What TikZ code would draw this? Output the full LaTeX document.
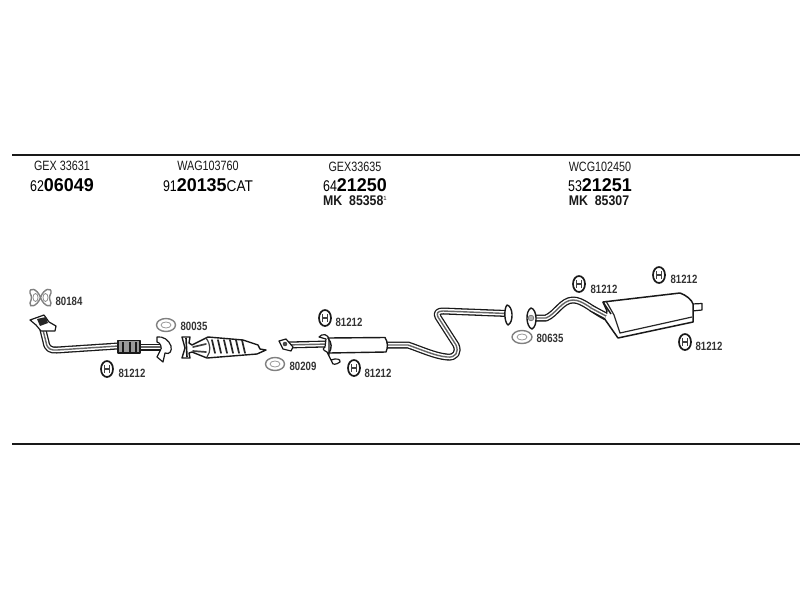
\documentclass[tikz,border=0pt]{standalone}
\usepackage{graphicx}
\usepackage{fontspec}
\setmainfont{Liberation Sans}
\newcommand{\nar}[2][0.8]{\scalebox{#1}[1]{#2}}
\newcommand{\code}[2]{\nar[0.8]{\fontsize{15.5}{15.5}\selectfont #1}\nar[0.97]{\fontsize{18.5}{18.5}\selectfont\bfseries #2}}
\tikzset{
  x=1pt,y=-1pt,
  rulebar/.style={line width=1.7pt,black!90},
  hdr/.style={inner sep=0pt,font=\fontsize{13.5}{13.5}\selectfont,text=black!90},
  num/.style={inner sep=0pt,text=black},
  mk/.style={inner sep=0pt,font=\fontsize{14}{14}\selectfont\bfseries,text=black!90},
  partno/.style={inner sep=0pt,font=\fontsize{12}{12}\selectfont\bfseries,text=black!80},
  gasket/.style={draw=black!50,line width=1.4pt,fill=white},
  outl/.style={draw=black!90,line width=1.2pt,line join=round},
  bodyfill/.style={outl,fill=white},
  shade/.style={draw=black!75,line width=1.7pt,line cap=round},
  mount/.pic={
    \draw[black!90,line width=1.7pt,fill=white] (0,0) ellipse [x radius=6,y radius=8];
    \draw[black!75,line width=1.3pt] (-2.4,-3.8) -- (-2.4,3.8) (2.4,-3.8) -- (2.4,3.8) (-2.4,0) -- (2.4,0);
  }
}
\newcommand{\pipe}[1]{
  \draw[black!90,line width=7pt,line join=round] #1;
  \draw[white,line width=4.4pt,line join=round] #1;
  \draw[black!60,line width=1.4pt,line join=round] #1;
}
\begin{document}
\begin{tikzpicture}
\useasboundingbox (0,0) rectangle (800,600);
\fill[white] (0,0) rectangle (800,600);
% rules
\coordinate (ta) at (12,155); \coordinate (tb) at (800,155);
\coordinate (ba) at (12,444); \coordinate (bb) at (800,444);
\draw[rulebar] (ta) -- (tb);
\draw[rulebar] (ba) -- (bb);
% header texts
\node[hdr] (h1) at (62,166) {\nar{GEX 33631}};
\node[num] (n1) at (62,185) {\code{62}{06049}};
\node[hdr] (h2) at (208,166) {\nar{WAG103760}};
\node[num] (n2) at (208,185) {\code{91}{20135}\nar[0.88]{\fontsize{15.5}{15.5}\selectfont CAT}};
\node[hdr] (h3) at (355,167) {\nar{GEX33635}};
\node[num] (n3) at (355,185) {\code{64}{21250}};
\node[mk] (m3) at (355,201) {\nar[0.88]{MK\ \ 85358}\raisebox{5pt}{\fontsize{6}{6}\selectfont\mdseries 1}};
\node[hdr] (h4) at (600,167) {\nar{WCG102450}};
\node[num] (n4) at (600,185) {\code{53}{21251}};
\node[mk] (m4) at (599,201) {\nar[0.88]{MK\ \ 85307}};
% gasket 80184
\draw[gasket] (40.5,297.5) .. controls (37,288) and (29,287) .. (30,293) .. controls (32,297) and (32,298) .. (30,303) .. controls (29,308) and (37,307) .. (40.5,297.5) .. controls (44,288) and (52,287) .. (51,293) .. controls (49,297) and (49,298) .. (51,303) .. controls (52,308) and (44,307) .. cycle;
\draw[black!45,line width=.8pt] (35.5,297.5) ellipse [x radius=2.5,y radius=4] (45.5,297.5) ellipse [x radius=2.5,y radius=4];
\node[partno] (p1) at (69,301) {\nar{80184}};
% front pipe
\pipe{(42,326) -- (46,342) .. controls (47,349) and (51,350.5) .. (57,350) -- (118,346)}
\draw[bodyfill] (30,320) -- (44,315) -- (49,322) -- (56,326) -- (55,331) -- (41,331) -- (36,325) -- cycle;
\fill[black!85] (37,319) -- (46,317) -- (48,323) -- (40,326) -- cycle;
\pipe{(140,347) -- (165,347)}
\draw[outl,fill=black!40] (118,340.5) rectangle (140,353);
\draw[black!90,line width=2.4pt] (123,342) -- (123,352) (130,342) -- (130,352) (136,342) -- (136,352);
\draw[bodyfill,fill=white] (157,337) .. controls (163,336) and (169,340) .. (171,346) .. controls (172,351) and (170,355) .. (165,353) -- (163,362) -- (157,357) -- (160,351) .. controls (163,348) and (160,342) .. (157,342) -- cycle;
\node[partno] (p2) at (132,373) {\nar{81212}};
\pic at (107,369) {mount};
% gasket 80035
\draw[gasket] (166,325) ellipse [x radius=9.5,y radius=6.5];
\draw[black!40,line width=.8pt] (166,325) ellipse [x radius=5,y radius=3];
\node[partno] (p3) at (194,326) {\nar{80035}};
% catalyst
\draw[bodyfill,line width=1.4pt] (182,337) -- (190,337) -- (189,343) -- (192,345) -- (208,337) -- (243,340) -- (258,345) -- (260,349) -- (266,350) -- (257,354) -- (207,358) -- (192,352) -- (189,353) -- (190,358) -- (182,358) -- (185,348) -- cycle;
\draw[black!90,line width=1.6pt] (186,338) -- (187,357);
\draw[shade] (193,347) -- (206,344) (193,351) -- (206,352);
\foreach \x in {212,218,224,230,236,242}{
  \draw[shade,black!85] (\x,340) -- (\x+3,353);
}
\draw[black!75,line width=1.2pt] (206,338) .. controls (211,345) and (211,351) .. (207,357);
% gasket 80209
\draw[gasket] (275,364) ellipse [x radius=9.5,y radius=6.5];
\draw[black!40,line width=.8pt] (275,364) ellipse [x radius=5,y radius=3];
\node[partno] (p4) at (303,366) {\nar{80209}};
% centre pipe
\pipe{(286,345) -- (328,344)}
\draw[bodyfill] (279,341) -- (286,339) -- (293,347) -- (291,351) -- (283,349) -- cycle;
\draw[black!80,fill=black!70] (285,344) circle [radius=2];
\draw[bodyfill] (319,337) .. controls (322,333) and (329,334) .. (329,340) -- (329,356) -- (331,360) .. controls (336,358) and (341,359) .. (340,362) .. controls (336,365) and (332,365) .. (332,362) -- (327,352) .. controls (323,350) and (322,349) .. (325,347) -- (326,339) -- cycle;
\pipe{(387,345) -- (408,345) .. controls (420,349) and (435,356) .. (447,357) .. controls (456,358) and (459,352) .. (456,345) -- (438,317) .. controls (436,313) and (438,311) .. (443,311) -- (507,313.5)}
\draw[bodyfill,line width=1.4pt] (328,338) -- (385,337.5) .. controls (388,342) and (388,348) .. (386,352) -- (329,353) .. controls (332,348) and (332,343) .. (328,338) -- cycle;
\draw[bodyfill,line width=1.4pt] (507,305) .. controls (513,306) and (514,322) .. (508,325) .. controls (504,322) and (504,308) .. (507,305) -- cycle;
\node[partno] (p5) at (349,322) {\nar{81212}};
\pic at (325,318) {mount};
\node[partno] (p6) at (378,373) {\nar{81212}};
\pic at (354,368) {mount};
% rear pipe
\pipe{(536,318) -- (546,318) .. controls (556,314) and (562,300) .. (573,300) .. controls (583,300) and (592,310) .. (606,317)}
\draw[bodyfill,line width=1.4pt] (531,308) .. controls (537,309) and (538,326) .. (532,329) .. controls (526,327) and (525,311) .. (531,308) -- cycle;
\draw[black!55,fill=black!30,line width=.7pt] (531,318) circle [radius=2.8];
\draw[outl,fill=white] (692,304) -- (702,303.5) -- (702,310) -- (692,311) -- cycle;
\draw[bodyfill,line width=1.5pt] (603,302) -- (680,293) .. controls (686,295) and (692,300) .. (693,304) -- (693,322) -- (618,338) -- (604,318) -- (607,311) -- cycle;
\draw[black!85,line width=1.2pt] (606,301) -- (614,315) -- (620,333) -- (692,317);
\pipe{(591,308) -- (606,316)}
\draw[black!90,line width=1.4pt] (603,302) -- (611,314);
% gasket 80635
\draw[gasket] (522,337) ellipse [x radius=10,y radius=6.5];
\draw[black!40,line width=.8pt] (522,337) ellipse [x radius=5,y radius=3];
\node[partno] (p7) at (550,338) {\nar{80635}};
\node[partno] (p8) at (604,289) {\nar{81212}};
\pic at (579,284) {mount};
\node[partno] (p9) at (684,279) {\nar{81212}};
\pic at (659,275) {mount};
\node[partno] (p10) at (709,346) {\nar{81212}};
\pic at (685,342) {mount};
\end{tikzpicture}
\end{document}
